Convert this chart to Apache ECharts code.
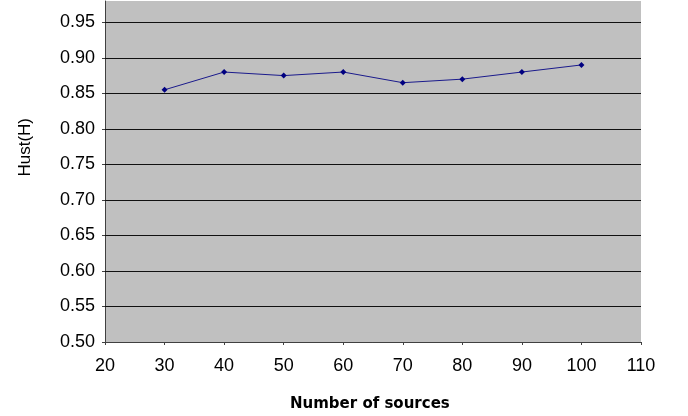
<!DOCTYPE html>
<html>
<head>
<meta charset="utf-8">
<script src="https://cdn.jsdelivr.net/npm/echarts@6/dist/echarts.min.js"></script>
<style>html,body{margin:0;padding:0;background:#fff}#c{width:688px;height:416px}</style>
</head>
<body>
<div id="c"></div>
<script>
var sources = [30, 40, 50, 60, 70, 80, 90, 100];
var hurst = [0.855, 0.88, 0.875, 0.88, 0.865, 0.87, 0.88, 0.89];
var yTicks = [0.50, 0.55, 0.60, 0.65, 0.70, 0.75, 0.80, 0.85, 0.90, 0.95];
var xTicks = [20, 30, 40, 50, 60, 70, 80, 90, 100, 110];

var chart = echarts.init(document.getElementById('c'), null, {renderer: 'canvas'});
var font = 'Liberation Sans, Arial, sans-serif';
chart.setOption({
  animation: false,
  grid: {left: 105, right: 47, top: 1, bottom: 74, show: true, backgroundColor: '#C0C0C0', borderWidth: 0},
  xAxis: {
    type: 'value', min: 20, max: 110, interval: 10,
    axisLine: {show: true, onZero: false, lineStyle: {color: '#404040', width: 1}},
    axisTick: {show: true, length: 3, lineStyle: {color: '#404040'}},
    axisLabel: {color: '#000', fontSize: 18, fontFamily: font, margin: 15, customValues: xTicks},
    splitLine: {show: false}
  },
  yAxis: {
    type: 'value', min: 0.5, max: 0.98, interval: 0.05,
    axisLine: {show: true, lineStyle: {color: '#404040', width: 1}},
    axisTick: {show: true, length: 3, lineStyle: {color: '#404040'}, customValues: yTicks},
    axisLabel: {color: '#000', fontSize: 18, fontFamily: font, margin: 10, customValues: yTicks,
      formatter: function (v) { return v.toFixed(2); }},
    splitLine: {show: false}
  },
  graphic: [
    {type: 'text', left: 17, top: 118, 
      style: {text: 'Hust(H)', fontSize: 17, fontFamily: font, fill: '#000'}, rotation: Math.PI / 2},
    {type: 'text', left: 290, top: 397,
      style: {text: 'Number of sources', fontSize: 15, fontFamily: 'DejaVu Sans, sans-serif', fill: '#000', fontWeight: 'bold'}}
  ],
  series: [{
    type: 'line',
    data: sources.map(function (s, i) { return [s, hurst[i]]; }),
    lineStyle: {color: '#1a1a8c', width: 1},
    itemStyle: {color: '#000080'},
    symbol: 'diamond', symbolSize: 6, showSymbol: true,
    markLine: {
      silent: true, symbol: 'none', animation: false,
      label: {show: false},
      lineStyle: {color: '#111', width: 1, type: 'solid'},
      data: yTicks.slice(1).map(function (v) { return {yAxis: v}; })
    },
    z: 3
  }]
});
</script>
</body>
</html>
